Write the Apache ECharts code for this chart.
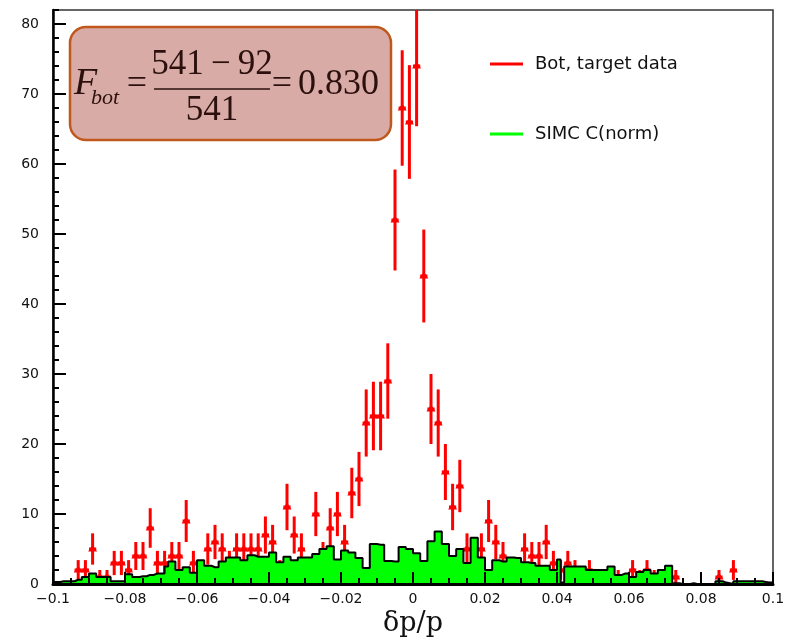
<!DOCTYPE html>
<html>
<head>
<meta charset="utf-8">
<title>delta p / p, bottom target</title>
<script src="https://cdn.jsdelivr.net/npm/echarts@6/dist/echarts.min.js"></script>
<style>
  html, body { margin: 0; padding: 0; background: #fff; }
  #chart { width: 788px; height: 640px; }
</style>
</head>
<body>
<div id="chart"></div>
<script>
// Histogram range and binning
const X_MIN = -0.1;
const X_MAX = 0.1;
const Y_MAX = 82;
const DATA_BIN = 0.002;   // target data: 100 bins
const SIMC_BIN = 0.001;   // SIMC carbon: 200 bins

// Tick labels
const xTickLabels = ['\u22120.1', '\u22120.08', '\u22120.06', '\u22120.04', '\u22120.02', '0', '0.02', '0.04', '0.06', '0.08', '0.1'];
const yTickLabels = ['0', '10', '20', '30', '40', '50', '60', '70', '80'];

// Series names
const seriesNames = ['Bot, target data', 'SIMC C(norm)'];

// Bottom target counts per 0.002 bin, from -0.1 to 0.1
const targetCounts = [
  0, 0, 0, 2, 2, 5, 1, 1, 3, 3,
  2, 4, 4, 8, 3, 3, 4, 4, 9, 3,
  2, 5, 6, 5, 3, 5, 5, 5, 5, 7,
  6, 2, 11, 7, 5, 2, 10, 4, 8, 10,
  6, 13, 15, 23, 24, 24, 29, 52, 68, 66,
  74, 44, 25, 23, 16, 11, 14, 5, 3, 5,
  9, 6, 4, 2, 2, 5, 4, 4, 6, 3,
  2, 3, 2, 1, 2, 1, 0, 1, 1, 0,
  2, 1, 2, 1, 0, 1, 1, 0, 0, 0,
  0, 0, 1, 0, 2, 0, 0, 0, 0, 0
];

// Normalised SIMC carbon spectrum per 0.001 bin, from -0.1 to 0.1
const simcCounts = [
  0.3, 0.3, 0.4, 0.4, 0.4, 0.4, 0.6, 0.6, 1.0, 1.0,
  1.5, 1.5, 1.0, 1.0, 1.0, 1.0, 0.4, 0.4, 0.4, 0.4,
  1.4, 1.4, 1.0, 1.0, 1.1, 1.1, 1.3, 1.3, 1.5, 1.5,
  1.5, 2.5, 3.2, 3.2, 2.0, 2.0, 2.4, 2.4, 1.6, 1.6,
  3.4, 3.4, 2.6, 2.6, 2.4, 2.4, 3.2, 3.2, 3.8, 3.8,
  3.8, 3.8, 3.4, 3.4, 4.1, 4.1, 3.9, 3.9, 3.9, 3.9,
  4.5, 4.5, 3.1, 3.1, 3.9, 3.9, 3.4, 3.4, 3.8, 3.8,
  3.8, 3.8, 4.3, 4.3, 5.0, 5.0, 5.4, 5.4, 3.5, 3.5,
  4.8, 4.8, 4.5, 4.5, 3.7, 3.7, 2.3, 2.3, 5.7, 5.7,
  5.6, 5.6, 3.3, 3.3, 3.2, 3.2, 5.3, 5.3, 5.0, 5.0,
  4.4, 4.4, 3.3, 3.3, 6.1, 6.1, 7.5, 7.5, 5.7, 5.7,
  4.0, 4.0, 5.0, 5.0, 3.0, 3.0, 6.6, 6.6, 3.8, 3.8,
  2.0, 2.0, 3.4, 3.4, 3.2, 3.2, 3.8, 3.8, 3.7, 3.7,
  3.1, 3.1, 3.0, 3.0, 2.6, 2.6, 2.6, 2.6, 2.0, 2.0,
  3.5, 0.2, 2.5, 2.5, 2.5, 2.5, 2.5, 2.5, 2.0, 2.0,
  2.0, 2.0, 2.0, 2.0, 2.5, 2.5, 1.3, 1.3, 1.5, 1.5,
  1.0, 1.0, 1.7, 1.7, 2.0, 2.0, 1.5, 1.5, 2.0, 2.0,
  2.6, 2.6, 0.1, 0.1, 0.0, 0.0, 0.0, 0.1, 0.0, 0.0,
  0.0, 0.0, 0.0, 0.0, 0.4, 0.4, 0.2, 0.1, 0.0, 0.4,
  0.4, 0.4, 0.4, 0.4, 0.4, 0.4, 0.4, 0.3, 0.2, 0.2
];

// Points with Poisson errors at bin centres (empty bins are not drawn)
const targetPoints = targetCounts
  .map((n, i) => [X_MIN + DATA_BIN * (i + 0.5), n, Math.sqrt(n)])
  .filter(p => p[1] > 0);

// Step outline: left edge of every bin, closed at the upper range limit
const simcSteps = simcCounts.map((v, k) => [X_MIN + SIMC_BIN * k, v]);
simcSteps.push([X_MAX, simcCounts[simcCounts.length - 1]]);

const RED = '#ff0000';
const GREEN = '#00ff00';
const INK = '#2b100e';

function renderTargetPoint(params, api) {
  const x = api.value(0), y = api.value(1), e = api.value(2);
  const lo = api.coord([x, y - e]);
  const hi = api.coord([x, y + e]);
  const left = api.coord([x - DATA_BIN / 2, y]);
  const right = api.coord([x + DATA_BIN / 2, y]);
  const c = api.coord([x, y]);
  const s = 4.5;
  return {
    type: 'group',
    children: [
      { type: 'line', shape: { x1: lo[0], y1: lo[1], x2: hi[0], y2: hi[1] },
        style: { stroke: RED, lineWidth: 3 } },
      { type: 'line', shape: { x1: left[0], y1: left[1], x2: right[0], y2: right[1] },
        style: { stroke: RED, lineWidth: 3 } },
      { type: 'polygon',
        shape: { points: [[c[0] - s, c[1] + 2.5], [c[0] + s, c[1] + 2.5], [c[0], c[1] - s]] },
        style: { fill: RED } }
    ]
  };
}

const axisTextBase = { fontFamily: 'DejaVu Sans', fontSize: 14, color: '#111' };
const tickStyle = { color: '#000', width: 2 };

// Secondary axes that only carry the fine (minor) ticks
function fineTickAxis(extra) {
  return Object.assign({
    type: 'value',
    z: 12,
    axisLine: { show: false, onZero: false },
    axisTick: { show: true, inside: true, length: 6, lineStyle: tickStyle },
    axisLabel: { show: false },
    splitLine: { show: false },
    silent: true
  }, extra);
}

const option = {
  animation: false,
  backgroundColor: '#fff',
  grid: {
    left: 53, right: 15, top: 10, bottom: 56,
    containLabel: false,
    outerBoundsMode: 'none',
    show: true,
    borderColor: '#333',
    borderWidth: 1.5,
    backgroundColor: 'transparent'
  },
  xAxis: [
    {
      type: 'value',
      position: 'bottom',
      min: X_MIN, max: X_MAX, interval: 0.02,
      z: 12,
      name: '\u03b4p/p',
      nameLocation: 'middle',
      nameGap: 25,
      nameTextStyle: { fontFamily: 'DejaVu Serif', fontSize: 27, color: '#111' },
      axisLine: { show: true, onZero: false, lineStyle: { color: '#000', width: 3 } },
      axisTick: { show: true, inside: true, length: 12, lineStyle: tickStyle },
      splitLine: { show: false },
      axisLabel: Object.assign({
        margin: 8,
        showMinLabel: true, showMaxLabel: true,
        formatter: v => xTickLabels[Math.round((v - X_MIN) / 0.02)]
      }, axisTextBase)
    },
    fineTickAxis({ position: 'bottom', min: X_MIN, max: X_MAX, interval: 0.005 })
  ],
  yAxis: [
    {
      type: 'value',
      position: 'left',
      min: 0, max: Y_MAX, interval: 10,
      z: 12,
      axisLine: { show: true, onZero: false, lineStyle: { color: '#000', width: 2.5 } },
      axisTick: { show: true, inside: true, length: 13, lineStyle: tickStyle },
      splitLine: { show: false },
      axisLabel: Object.assign({
        margin: 14,
        showMaxLabel: false,
        formatter: v => yTickLabels[Math.round(v / 10)] || ''
      }, axisTextBase)
    },
    fineTickAxis({ position: 'left', min: 0, max: Y_MAX, interval: 2 })
  ],
  legend: {
    orient: 'vertical',
    left: 485,
    top: 50,
    itemWidth: 33,
    itemHeight: 3,
    itemGap: 52,
    icon: 'rect',
    selectedMode: false,
    textStyle: { fontFamily: 'DejaVu Sans', fontSize: 18, color: '#111', padding: [0, 0, 0, 7] },
    data: [
      { name: seriesNames[0], itemStyle: { color: RED, borderWidth: 0 } },
      { name: seriesNames[1], itemStyle: { color: GREEN, borderWidth: 0 } }
    ]
  },
  series: [
    {
      name: seriesNames[0],
      type: 'custom',
      coordinateSystem: 'cartesian2d',
      xAxisIndex: 0, yAxisIndex: 0,
      renderItem: renderTargetPoint,
      encode: { x: 0, y: 1 },
      data: targetPoints,
      itemStyle: { color: RED },
      clip: true,
      silent: true,
      z: 1
    },
    {
      name: seriesNames[1],
      type: 'line',
      xAxisIndex: 0, yAxisIndex: 0,
      data: simcSteps,
      step: 'end',
      symbol: 'none',
      showSymbol: false,
      itemStyle: { color: GREEN },
      lineStyle: { color: '#000', width: 2 },
      areaStyle: { color: GREEN, opacity: 1 },
      silent: true,
      z: 2
    }
  ],
  graphic: [
    {
      type: 'rect', z: 20,
      shape: { x: 70, y: 27, width: 321, height: 113, r: 16 },
      style: { fill: '#d9aba6', stroke: '#c0581e', lineWidth: 2.5 }
    },
    {
      type: 'text', z: 21, x: 74, y: 84,
      style: { text: 'F', fontFamily: 'Liberation Serif', fontStyle: 'italic', fontSize: 38,
               fill: INK, align: 'left', verticalAlign: 'middle' }
    },
    {
      type: 'text', z: 21, x: 91, y: 98.5,
      style: { text: 'bot', fontFamily: 'Liberation Serif', fontStyle: 'italic', fontSize: 22,
               fill: INK, align: 'left', verticalAlign: 'middle' }
    },
    {
      type: 'text', z: 21, x: 137, y: 85,
      style: { text: '=', fontFamily: 'Liberation Serif', fontSize: 36,
               fill: INK, align: 'center', verticalAlign: 'middle' }
    },
    {
      type: 'text', z: 21, x: 212, y: 65,
      style: { text: '541\u2009\u2212\u200992', fontFamily: 'Liberation Serif', fontSize: 35,
               fill: INK, align: 'center', verticalAlign: 'middle' }
    },
    {
      type: 'line', z: 21,
      shape: { x1: 154, y1: 89, x2: 270, y2: 89 },
      style: { stroke: INK, lineWidth: 1.5 }
    },
    {
      type: 'text', z: 21, x: 212, y: 111,
      style: { text: '541', fontFamily: 'Liberation Serif', fontSize: 35,
               fill: INK, align: 'center', verticalAlign: 'middle' }
    },
    {
      type: 'text', z: 21, x: 282, y: 85,
      style: { text: '=', fontFamily: 'Liberation Serif', fontSize: 36,
               fill: INK, align: 'center', verticalAlign: 'middle' }
    },
    {
      type: 'text', z: 21, x: 298, y: 85,
      style: { text: '0.830', fontFamily: 'Liberation Serif', fontSize: 36,
               fill: INK, align: 'left', verticalAlign: 'middle' }
    }
  ]
};

const chart = echarts.init(document.getElementById('chart'), null, { renderer: 'canvas' });
chart.setOption(option);
</script>
</body>
</html>
